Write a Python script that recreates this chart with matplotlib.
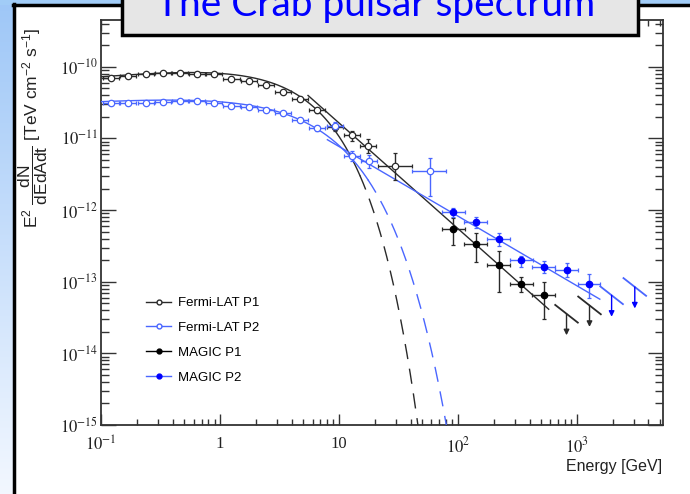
import numpy as np
import matplotlib
matplotlib.use("Agg")
import matplotlib.pyplot as plt
from matplotlib.patches import Rectangle
from matplotlib.lines import Line2D

plt.rcParams['mathtext.fontset'] = 'custom'
plt.rcParams['mathtext.rm'] = 'Liberation Sans'
plt.rcParams['mathtext.it'] = 'Liberation Sans'
plt.rcParams['mathtext.bf'] = 'Liberation Sans:bold'

# ---------------- data ----------------
fermi_p1_E = [0.121, 0.169, 0.238, 0.33, 0.46, 0.64, 0.89, 1.25, 1.75, 2.44, 3.37, 4.7, 6.6, 9.25, 12.8, 17.6, 29.6]
fermi_p1_F = [6.95e-11, 7.33e-11, 7.91e-11, 8.3e-11, 8.3e-11, 8.05e-11, 8.05e-11, 6.8e-11, 6.37e-11, 5.6e-11,
              4.5e-11, 3.54e-11, 2.5e-11, 1.44e-11, 1.1e-11, 7.96e-12, 4.19e-12]
fermi_p1_Elo = [0.104, 0.144, 0.203, 0.283, 0.395, 0.55, 0.765, 1.07, 1.5, 2.09, 2.9, 4.04, 5.65, 7.95, 11.0, 15.1, 21.2]
fermi_p1_Ehi = [0.141, 0.197, 0.277, 0.385, 0.537, 0.747, 1.04, 1.46, 2.04, 2.84, 3.94, 5.5, 7.7, 10.8, 14.9, 20.5, 41.1]
fermi_p1_Flo = [6.8e-11, 7.2e-11, 7.8e-11, 8.2e-11, 8.2e-11, 7.95e-11, 7.9e-11, 6.65e-11, 6.2e-11, 5.4e-11,
                4.3e-11, 3.35e-11, 2.3e-11, 1.28e-11, 9.3e-12, 6.2e-12, 2.64e-12]
fermi_p1_Fhi = [7.1e-11, 7.45e-11, 8.05e-11, 8.45e-11, 8.45e-11, 8.2e-11, 8.2e-11, 6.95e-11, 6.55e-11, 5.8e-11,
                4.7e-11, 3.75e-11, 2.7e-11, 1.6e-11, 1.28e-11, 9.8e-12, 6.29e-12]

fermi_p2_E = [0.121, 0.169, 0.238, 0.33, 0.46, 0.64, 0.89, 1.25, 1.75, 2.44, 3.37, 4.7, 6.6, 9.25, 12.8, 18.0, 58.0]
fermi_p2_F = [3.11e-11, 3.11e-11, 3.11e-11, 3.21e-11, 3.35e-11, 3.38e-11, 3.11e-11, 2.85e-11, 2.79e-11, 2.5e-11,
              2.25e-11, 1.82e-11, 1.39e-11, 1.5e-11, 5.77e-12, 4.87e-12, 3.53e-12]
fermi_p2_Elo = [0.104, 0.144, 0.203, 0.283, 0.395, 0.55, 0.765, 1.07, 1.5, 2.09, 2.9, 4.04, 5.65, 7.95, 11.0, 15.4, 40.8]
fermi_p2_Ehi = [0.141, 0.197, 0.277, 0.385, 0.537, 0.747, 1.04, 1.46, 2.04, 2.84, 3.94, 5.5, 7.7, 10.8, 14.9, 21.0, 80.0]
fermi_p2_Flo = [3.05e-11, 3.05e-11, 3.05e-11, 3.15e-11, 3.28e-11, 3.3e-11, 3.03e-11, 2.76e-11, 2.69e-11, 2.39e-11,
                2.13e-11, 1.7e-11, 1.27e-11, 1.33e-11, 4.9e-12, 3.9e-12, 1.55e-12]
fermi_p2_Fhi = [3.17e-11, 3.17e-11, 3.17e-11, 3.27e-11, 3.42e-11, 3.46e-11, 3.19e-11, 2.94e-11, 2.89e-11, 2.61e-11,
                2.37e-11, 1.94e-11, 1.51e-11, 1.67e-11, 6.7e-12, 5.9e-12, 5.36e-12]

magic_E = [91.4, 141.6, 220.0, 340.0, 528.0]
magic_Elo = [73.5, 113.0, 176.0, 272.0, 422.0]
magic_Ehi = [115.0, 177.0, 275.0, 425.0, 660.0]
magic_p1_F = [5.41e-13, 3.37e-13, 1.72e-13, 9.23e-14, 6.47e-14]
magic_p1_Flo = [3.27e-13, 1.91e-13, 7.27e-14, 7.27e-14, 2.99e-14]
magic_p1_Fhi = [7.7e-13, 4.85e-13, 2.72e-13, 1.18e-13, 1.0e-13]

magic_p2_E = [91.4, 141.6, 220.0, 340.0, 528.0, 819.0, 1268.0]
magic_p2_Elo = [73.5, 113.0, 176.0, 272.0, 422.0, 655.0, 1015.0]
magic_p2_Ehi = [115.0, 177.0, 275.0, 425.0, 660.0, 1020.0, 1580.0]
magic_p2_F = [9.35e-13, 6.78e-13, 3.92e-13, 2.0e-13, 1.61e-13, 1.46e-13, 9.2e-14]
magic_p2_Flo = [8.11e-13, 5.7e-13, 3.16e-13, 1.62e-13, 1.32e-13, 1.16e-13, 5.89e-14]
magic_p2_Fhi = [1.06e-12, 8.11e-13, 4.85e-13, 2.29e-13, 1.95e-13, 1.81e-13, 1.27e-13]

# upper limits
ul_p1_E = [819.0, 1278.0]
ul_p1_F = [3.57e-14, 4.67e-14]
ul_p2_E = [1960.0, 3070.0]
ul_p2_F = [6.47e-14, 8.45e-14]

# fit models (parameters)
# exponential cutoff: F = A * E^a * exp(-(E/Ec)^b)
cut_p1 = dict(A=1.052e-10, a=0.15, Ec=3.8, b=1.0, solid_max=15.0, dash_max=47.0)
cut_p2 = dict(A=4.24e-11, a=0.0975, Ec=4.72, b=0.85, solid_max=17.5, dash_max=81.0)
# power laws: F = N100 * (E/100)^s
pl_p1 = dict(N100=5.52e-13, s=-1.475, Emin=5.5, Emax=580.0)
pl_p2 = dict(N100=8.24e-13, s=-0.972, Emin=8.0, Emax=1560.0)

legend_labels = ["Fermi-LAT P1", "Fermi-LAT P2", "MAGIC P1", "MAGIC P2"]
x_ticks = [0.1, 1, 10, 100, 1000]
x_ticklabels = [r"$10^{-1}$", "1", "10", r"$10^{2}$", r"$10^{3}$"]
y_ticks = [1e-15, 1e-14, 1e-13, 1e-12, 1e-11, 1e-10]
y_ticklabels = [r"$10^{-15}$", r"$10^{-14}$", r"$10^{-13}$", r"$10^{-12}$", r"$10^{-11}$", r"$10^{-10}$"]
title_text = "The Crab pulsar spectrum"

# ---------------- figure ----------------
W, H = 690, 494
fig = plt.figure(figsize=(W / 100, H / 100), dpi=100)
fig.patch.set_facecolor("white")


def fx(px):
    return px / W


def fy(py):
    return 1 - py / H


# background gradient strip on the left and top
bg = fig.add_axes([0, 0, 1, 1], zorder=-10)
bg.set_axis_off()
grad = np.linspace(0, 1, 256)[:, None]
top_c = np.array([0.62, 0.78, 0.97])
bot_c = np.array([0.95, 0.97, 1.0])
img = top_c[None, None, :] * (1 - grad[:, :, None]) + bot_c[None, None, :] * grad[:, :, None]
bg.imshow(img, extent=[0, W, H, 0], aspect="auto")
bg.add_patch(Rectangle((15, 5), W, H, facecolor="white", edgecolor="none"))
bg.add_patch(Rectangle((0, 0), W, 5, facecolor=(0.63, 0.80, 0.97), edgecolor="none"))
bg.plot([14, 14], [4, H], color="black", lw=2.5)
bg.plot([13, W], [5, 5], color="black", lw=2.5)
bg.set_xlim(0, W)
bg.set_ylim(H, 0)

BLACK = "#2a2a2a"
BLUE_L = "#4a66ff"
BLUE = "#0000ff"

ax = fig.add_axes([fx(101), fy(425), fx(663) - fx(101), fy(20) - fy(425)])
ax.set_xscale("log")
ax.set_yscale("log")
ax.set_xlim(0.1, 5300)
ax.set_ylim(1e-15, 4.5e-10)


def cutoff(p, E):
    return p["A"] * E ** p["a"] * np.exp(-(E / p["Ec"]) ** p["b"])


for p, c in ((cut_p1, BLACK), (cut_p2, BLUE_L)):
    Es = np.logspace(-1, np.log10(p["solid_max"]), 300)
    ax.plot(Es, cutoff(p, Es), color=c, lw=1.0, zorder=3)
    Ed = np.logspace(np.log10(p["solid_max"]), np.log10(p["dash_max"]), 300)
    ax.plot(Ed, cutoff(p, Ed), color=c, lw=1.0, dashes=(11, 7), zorder=3)

for p, c in ((pl_p1, BLACK), (pl_p2, BLUE_L)):
    Es = np.array([p["Emin"], p["Emax"]])
    ax.plot(Es, p["N100"] * (Es / 100.0) ** p["s"], color=c, lw=1.0, zorder=3)


def errplot(E, F, Elo, Ehi, Flo, Fhi, color, mfc, ms, ecolor):
    E = np.array(E); F = np.array(F)
    xerr = [E - np.array(Elo), np.array(Ehi) - E]
    yerr = [F - np.array(Flo), np.array(Fhi) - F]
    ax.errorbar(E, F, xerr=xerr, yerr=yerr, fmt="o", color=color, mfc=mfc, mec=color,
                ms=ms, mew=0.9, ecolor=ecolor, elinewidth=1.0, capsize=1.5, capthick=1.0, zorder=4)


errplot(fermi_p1_E, fermi_p1_F, fermi_p1_Elo, fermi_p1_Ehi, fermi_p1_Flo, fermi_p1_Fhi, BLACK, "white", 4.6, BLACK)
errplot(fermi_p2_E, fermi_p2_F, fermi_p2_Elo, fermi_p2_Ehi, fermi_p2_Flo, fermi_p2_Fhi, BLUE_L, "white", 4.6, BLUE_L)
errplot(magic_E, magic_p1_F, magic_Elo, magic_Ehi, magic_p1_Flo, magic_p1_Fhi, "black", "black", 4.6, BLACK)
errplot(magic_p2_E, magic_p2_F, magic_p2_Elo, magic_p2_Ehi, magic_p2_Flo, magic_p2_Fhi, BLUE, BLUE, 4.6, BLUE_L)

# upper limits: short sloped segment + arrow
for Es, Fs, c, ac in ((ul_p1_E, ul_p1_F, BLACK, BLACK), (ul_p2_E, ul_p2_F, BLUE_L, BLUE)):
    for E, F in zip(Es, Fs):
        seg = np.array([E / 10 ** 0.095, E * 10 ** 0.095])
        ax.plot(seg, F * (seg / E) ** -1.3, color=c, lw=1.3, zorder=4)
        ax.annotate("", xy=(E, F / 10 ** 0.3), xytext=(E, F),
                    arrowprops=dict(arrowstyle="-|>", color=ac, lw=1.0, mutation_scale=8,
                                    shrinkA=0, shrinkB=0), zorder=4)

# axes styling
for s in ax.spines.values():
    s.set_color("#333333")
    s.set_linewidth(1.3)
ax.tick_params(axis="both", which="both", direction="in", top=True, right=True, colors="#333333", width=1.0)
ax.tick_params(axis="y", which="major", length=10.5, pad=2)
ax.tick_params(axis="y", which="minor", length=5.5)
ax.tick_params(axis="x", which="major", length=8, pad=8)
ax.tick_params(axis="x", which="minor", length=4.5)
ax.set_xticks(x_ticks)
ax.set_xticklabels(x_ticklabels)
ax.set_yticks(y_ticks)
ax.set_yticklabels(y_ticklabels)
ax.xaxis.set_minor_locator(matplotlib.ticker.LogLocator(base=10, subs=np.arange(2, 10), numticks=50))
ax.yaxis.set_minor_locator(matplotlib.ticker.LogLocator(base=10, subs=np.arange(2, 10), numticks=50))
ax.xaxis.set_minor_formatter(matplotlib.ticker.NullFormatter())
ax.yaxis.set_minor_formatter(matplotlib.ticker.NullFormatter())
for t in ax.get_xticklabels() + ax.get_yticklabels():
    t.set_fontfamily("Liberation Serif")
    t.set_math_fontfamily("stix")
    t.set_fontsize(12)
    t.set_color("#222222")

fig.text(fx(662), fy(466), "Energy [GeV]", ha="right", va="center", fontsize=11.5,
         family="Liberation Sans", color="#222222")
fig.text(fx(33), fy(27), r"E$^{2}$ $\dfrac{\mathrm{dN}}{\mathrm{dEdAdt}}$ [TeV cm$^{-2}$ s$^{-1}$]",
         rotation=90, ha="center", va="top", fontsize=12.5, family="Liberation Sans", color="#222222")

# legend
handles = [
    Line2D([], [], color=BLACK, marker="o", mfc="white", mec=BLACK, ms=3.5, lw=1.0),
    Line2D([], [], color=BLUE_L, marker="o", mfc="white", mec=BLUE_L, ms=3.5, lw=1.0),
    Line2D([], [], color="black", marker="o", mfc="black", mec="black", ms=3.5, lw=1.0),
    Line2D([], [], color=BLUE_L, marker="o", mfc=BLUE, mec=BLUE, ms=3.5, lw=1.0),
]
leg = ax.legend(handles, legend_labels, loc="upper left", bbox_to_anchor=(fx(146), fy(297)),
                bbox_transform=fig.transFigure, frameon=False, handlelength=1.9, handletextpad=0.55,
                labelspacing=0.95, borderpad=0, borderaxespad=0,
                prop=dict(family="Liberation Sans", size=9.5))

# title box
fig.patches.append(Rectangle((fx(122), fy(35)), fx(638) - fx(122), fy(-10) - fy(35),
                             transform=fig.transFigure, facecolor="#e6e6e6", edgecolor="black",
                             lw=2.5, zorder=5))
fig.text(fx(376), fy(16), title_text, ha="center", va="baseline", fontsize=28, family="Lato",
         color="#0000ff", zorder=6)

fig.savefig("out.png", dpi=100)
